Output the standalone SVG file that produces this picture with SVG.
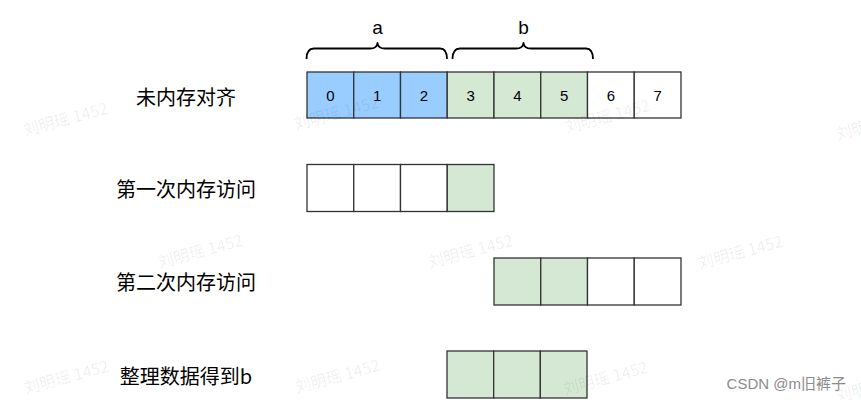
<svg xmlns="http://www.w3.org/2000/svg" width="861" height="400" viewBox="0 0 861 400">
  <style>
    .cell { stroke: #333333; stroke-width: 1.3; }
    .w { fill: #ffffff; }
    .blue { fill: #99ccff; }
    .green { fill: #d5e8d4; }
    .num { font-family: "Liberation Sans", Arial, sans-serif; font-size: 15px; fill: #000000; text-anchor: middle; dominant-baseline: central; }
    .lbl { font-family: "Noto Sans CJK SC", "Liberation Sans", sans-serif; font-size: 20px; fill: #000000; text-anchor: middle; dominant-baseline: central; }
    .brace { fill: none; stroke: #000000; stroke-width: 1.8; stroke-linejoin: round; }
    .blbl { font-family: "Liberation Sans", Arial, sans-serif; font-size: 19px; fill: #000000; text-anchor: middle; }
    .wm { font-family: "Noto Sans CJK SC", "Liberation Sans", sans-serif; font-size: 16px; fill: #000000; fill-opacity: 0.07; text-anchor: middle; dominant-baseline: central; }
    .csdn { font-family: "Liberation Sans", "Noto Sans CJK SC", sans-serif; font-size: 15px; fill: #8c8c8c; text-anchor: end; }
  </style>
  <rect x="0" y="0" width="861" height="400" fill="#ffffff"/>

  <!-- Row labels -->
  <g id="label-row1"><text class="lbl" x="186" y="96">未内存对齐</text></g>
  <g id="label-row2"><text class="lbl" x="186" y="188">第一次内存访问</text></g>
  <g id="label-row3"><text class="lbl" x="186" y="281">第二次内存访问</text></g>
  <g id="label-row4"><text class="lbl" x="186" y="375">整理数据得到b</text></g>

  <!-- Row 1: unaligned memory -->
  <g id="row1">
    <g id="r1c0"><rect class="cell blue" x="307" y="72" width="46.75" height="46"/><text class="num" x="330.4" y="95">0</text></g>
    <g id="r1c1"><rect class="cell blue" x="353.75" y="72" width="46.75" height="46"/><text class="num" x="377.1" y="95">1</text></g>
    <g id="r1c2"><rect class="cell blue" x="400.5" y="72" width="46.75" height="46"/><text class="num" x="423.9" y="95">2</text></g>
    <g id="r1c3"><rect class="cell green" x="447.25" y="72" width="46.75" height="46"/><text class="num" x="470.6" y="95">3</text></g>
    <g id="r1c4"><rect class="cell green" x="494" y="72" width="46.75" height="46"/><text class="num" x="517.4" y="95">4</text></g>
    <g id="r1c5"><rect class="cell green" x="540.75" y="72" width="46.75" height="46"/><text class="num" x="564.1" y="95">5</text></g>
    <g id="r1c6"><rect class="cell w" x="587.5" y="72" width="46.75" height="46"/><text class="num" x="610.9" y="95">6</text></g>
    <g id="r1c7"><rect class="cell w" x="634.25" y="72" width="46.75" height="46"/><text class="num" x="657.6" y="95">7</text></g>
  </g>

  <!-- Row 2: first access -->
  <g id="row2">
    <g id="r2c0"><rect class="cell w" x="307" y="164.5" width="46.75" height="47"/></g>
    <g id="r2c1"><rect class="cell w" x="353.75" y="164.5" width="46.75" height="47"/></g>
    <g id="r2c2"><rect class="cell w" x="400.5" y="164.5" width="46.75" height="47"/></g>
    <g id="r2c3"><rect class="cell green" x="447.25" y="164.5" width="46.75" height="47"/></g>
  </g>

  <!-- Row 3: second access -->
  <g id="row3">
    <g id="r3c0"><rect class="cell green" x="494" y="258" width="46.75" height="47"/></g>
    <g id="r3c1"><rect class="cell green" x="540.75" y="258" width="46.75" height="47"/></g>
    <g id="r3c2"><rect class="cell w" x="587.5" y="258" width="46.75" height="47"/></g>
    <g id="r3c3"><rect class="cell w" x="634.25" y="258" width="46.75" height="47"/></g>
  </g>

  <!-- Row 4: result b -->
  <g id="row4">
    <g id="r4c0"><rect class="cell green" x="447" y="351" width="46.67" height="47"/></g>
    <g id="r4c1"><rect class="cell green" x="493.67" y="351" width="46.67" height="47"/></g>
    <g id="r4c2"><rect class="cell green" x="540.33" y="351" width="46.67" height="47"/></g>
  </g>

  <!-- Braces -->
  <g id="connectors">
    <g id="brace-a">
      <path class="brace" d="M306.5,59 Q306.5,48.5 314,48.5 H370 Q377,48.5 377.5,43 Q378,48.5 385,48.5 H440 Q447,48.5 447,59"/>
      <text class="blbl" x="377.5" y="34">a</text>
    </g>
    <g id="brace-b">
      <path class="brace" d="M452.5,59 Q452.5,48.5 460,48.5 H516 Q523,48.5 523.5,43 Q524,48.5 531,48.5 H586 Q593,48.5 593,59"/>
      <text class="blbl" x="523.5" y="34">b</text>
    </g>
  </g>

  <!-- Watermarks -->
  <g id="watermarks">
    <text class="wm" x="65" y="118" transform="rotate(-15 65 118)">刘明瑶 1452</text>
    <text class="wm" x="336" y="112" transform="rotate(-15 336 112)">刘明瑶 1452</text>
    <text class="wm" x="607" y="115" transform="rotate(-15 607 115)">刘明瑶 1452</text>
    <text class="wm" x="878" y="122" transform="rotate(-15 878 122)">刘明瑶 1452</text>
    <text class="wm" x="200" y="250" transform="rotate(-15 200 250)">刘明瑶 1452</text>
    <text class="wm" x="470" y="250" transform="rotate(-15 470 250)">刘明瑶 1452</text>
    <text class="wm" x="740" y="251" transform="rotate(-15 740 251)">刘明瑶 1452</text>
    <text class="wm" x="66" y="376" transform="rotate(-15 66 376)">刘明瑶 1452</text>
    <text class="wm" x="337" y="375" transform="rotate(-15 337 375)">刘明瑶 1452</text>
    <text class="wm" x="605" y="377" transform="rotate(-15 605 377)">刘明瑶 1452</text>
    <text class="wm" x="878" y="384" transform="rotate(-15 878 384)">刘明瑶 1452</text>
  </g>

  <g id="csdn-credit"><text class="csdn" x="846" y="389">CSDN @m旧裤子</text></g>
</svg>
